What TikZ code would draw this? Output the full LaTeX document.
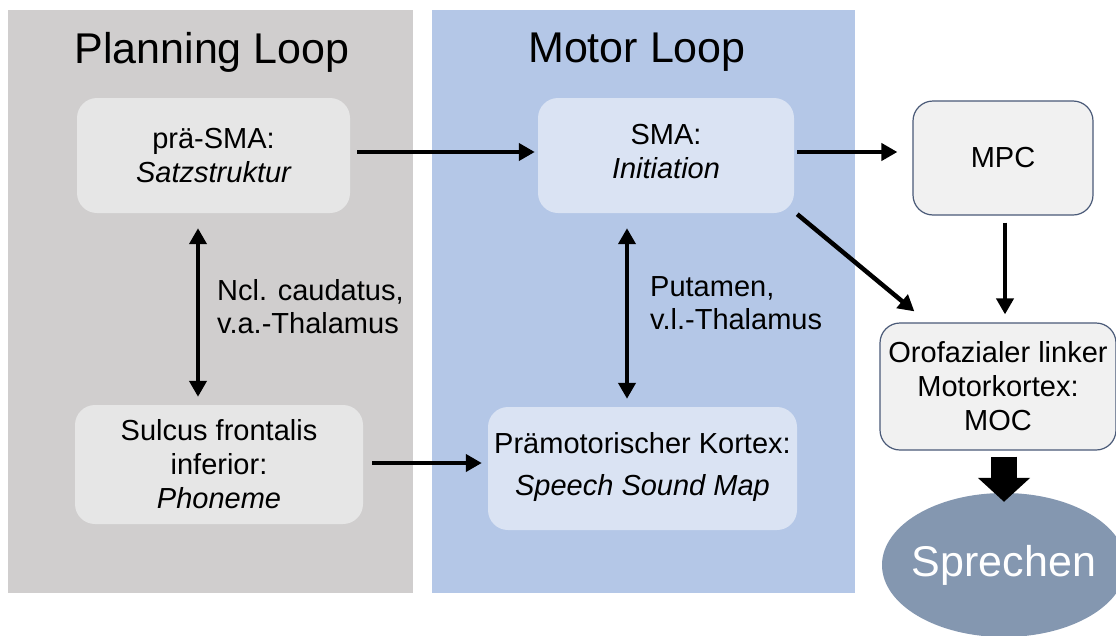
\documentclass[tikz,border=0pt]{standalone}
\usepackage{fontspec}
\setmainfont{Liberation Sans}
\usetikzlibrary{arrows.meta,calc,shapes.geometric}
\definecolor{planbg}{HTML}{D0CECE}
\definecolor{motorbg}{HTML}{B4C7E7}
\definecolor{planbox}{HTML}{E6E6E6}
\definecolor{motorbox}{HTML}{DAE3F3}
\definecolor{outbox}{HTML}{F1F1F1}
\definecolor{outline}{HTML}{4A5A78}
\definecolor{sprech}{HTML}{8497B0}
\begin{document}
\begin{tikzpicture}[x=1pt,y=-1pt,
  panel/.style={rectangle, inner sep=0pt, draw=none},
  box/.style={rectangle, rounded corners=20pt, inner sep=0pt, align=center,
    font=\fontsize{29}{34}\selectfont},
  outbx/.style={box, fill=outbox, draw=outline, line width=1.2pt},
  title/.style={font=\fontsize{43}{50}\selectfont, inner sep=0pt},
  lbl/.style={font=\fontsize{29}{33}\selectfont, align=left, inner sep=0pt, anchor=west},
  arr/.style={line width=4.5pt, -{Triangle[length=16pt,width=17pt]}},
  darr/.style={line width=4.5pt, {Triangle[length=16pt,width=17pt]}-{Triangle[length=16pt,width=17pt]}},
  blockarr/.style={line width=26pt, -{Triangle[length=24pt,width=51pt]}}
]
\useasboundingbox (0,0) rectangle (1116,635);
\fill[white] (0,0) rectangle (1116,635);

% panels
\node[panel, fill=planbg, minimum width=405pt, minimum height=583pt] (plan) at (210.5,301.5) {};
\node[panel, fill=motorbg, minimum width=423pt, minimum height=583pt] (motor) at (643.5,301.5) {};
\node[title] (tplan) at (212,52) {Planning Loop};
\node[title] (tmotor) at (637,52) {Motor Loop};

% boxes
\node[box, fill=planbox, minimum width=273pt, minimum height=115pt] (pre) at (213.5,155.5)
  {prä-SMA:\\\itshape Satzstruktur};
\node[box, fill=motorbox, minimum width=256pt, minimum height=115pt] (sma) at (666,155.5)
  {SMA:\\\itshape Initiation\\[-26pt]};
\node[box, fill=planbox, minimum width=288pt, minimum height=119pt] (sul) at (219,464.5)
  {Sulcus frontalis\\inferior:\\\itshape Phoneme};
\node[box, fill=motorbox, minimum width=309pt, minimum height=123pt] (pm) at (642.5,468.5)
  {Prämotorischer Kortex:\\[8pt]\itshape Speech Sound Map\\[-24pt]};
\node[outbx, minimum width=180pt, minimum height=114pt] (mpc) at (1003,158) {MPC};
\node[outbx, minimum width=236pt, minimum height=127pt] (moc) at (998,386.5)
  {Orofazialer linker\\Motorkortex:\\MOC};
\node[ellipse, fill=sprech, inner sep=-12pt, minimum width=244pt, minimum height=144pt,
  font=\fontsize{43}{50}\selectfont, text=white] (sp) at (1004,565) {Sprechen};

% labels
\node[lbl] (l1) at (217,306.5) {Ncl. caudatus,\\v.a.-Thalamus};
\node[lbl] (l2) at (650,303.5) {Putamen,\\v.l.-Thalamus};

% connectors
\draw[arr] ($(pre.east)+(7,-3.5)$) -- ($(sma.west)+(-3,-3.5)$);
\draw[arr] ($(sma.east)+(3,-3.5)$) -- ($(sma.east -| mpc.west)+(-15,-3.5)$);
\draw[arr] ($(sma.south east)+(3,1)$) -- ($(moc.north west)+(35,-11)$);
\draw[arr] ($(mpc.south)+(2,7)$) -- ($(mpc.south |- moc.north)+(2,-8)$);
\draw[darr] ($(pre.south)+(-15.5,15)$) -- ($(pre.south |- sul.north)+(-15.5,-8)$);
\draw[darr] ($(sma.south)+(-39,15)$) -- ($(sma.south |- pm.north)+(-39,-8)$);
\draw[arr] ($(sul.east)+(9,-1.5)$) -- ($(sul.east -| pm.west)+(-6,-1.5)$);
\draw[blockarr] ($(moc.south)+(6,6)$) -- ($(sp.north)+(0,9)$);
\end{tikzpicture}
\end{document}
